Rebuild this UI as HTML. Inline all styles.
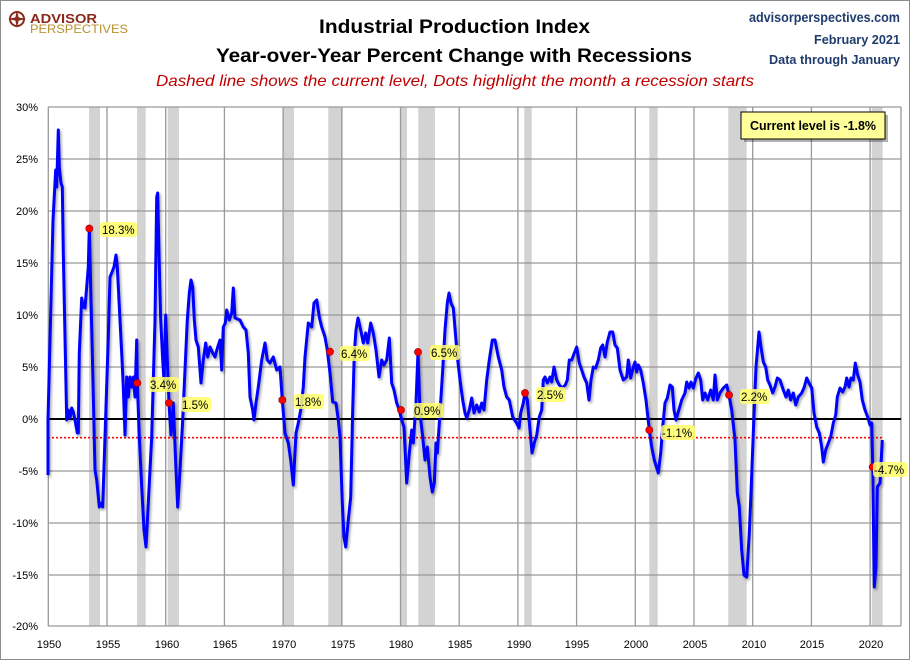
<!DOCTYPE html>
<html><head><meta charset="utf-8"><style>
body{margin:0;background:#fff}
svg{display:block}
text{font-family:"Liberation Sans",sans-serif}
</style></head><body>
<svg width="910" height="660" viewBox="0 0 910 660" xmlns="http://www.w3.org/2000/svg">
<defs>
<filter id="sh" x="-5%" y="-5%" width="110%" height="110%"><feDropShadow dx="1.5" dy="2" stdDeviation="1.2" flood-color="#000" flood-opacity="0.35"/></filter>
</defs>
<rect x="0.5" y="0.5" width="909" height="659" fill="#fff" stroke="#8c8c8c"/>
<circle cx="17" cy="19" r="7" fill="none" stroke="#8b2a1a" stroke-width="2"/>
<path d="M17 10 L19 19 L17 28 L15 19Z M8 19 L17 17 L26 19 L17 21Z" fill="#8b2a1a"/>
<text x="30" y="23" font-size="13" font-weight="bold" fill="#8b2a1a" textLength="67" lengthAdjust="spacingAndGlyphs">ADVISOR</text>
<text x="30" y="33" font-size="12" fill="#b8912f" textLength="98" lengthAdjust="spacingAndGlyphs">PERSPECTIVES</text>
<text x="319" y="33" font-size="19" font-weight="bold" fill="#000" textLength="271" lengthAdjust="spacingAndGlyphs">Industrial Production Index</text>
<text x="216" y="62" font-size="19" font-weight="bold" fill="#000" textLength="476" lengthAdjust="spacingAndGlyphs">Year-over-Year Percent Change with Recessions</text>
<text x="156" y="86" font-size="16" font-style="italic" fill="#c00000" textLength="598" lengthAdjust="spacingAndGlyphs">Dashed line shows the current level, Dots highlight the month a recession starts</text>
<text x="900" y="22" font-size="14" font-weight="bold" fill="#1f3c6e" text-anchor="end" textLength="151" lengthAdjust="spacingAndGlyphs">advisorperspectives.com</text>
<text x="900" y="44" font-size="13" font-weight="bold" fill="#1f3c6e" text-anchor="end" textLength="86" lengthAdjust="spacingAndGlyphs">February 2021</text>
<text x="900" y="64" font-size="13" font-weight="bold" fill="#1f3c6e" text-anchor="end" textLength="131" lengthAdjust="spacingAndGlyphs">Data through January</text>
<g fill="#d3d3d3">
<rect x="89" y="107" width="11" height="519"/>
<rect x="137" y="107" width="8.7" height="519"/>
<rect x="167.7" y="107" width="11.3" height="519"/>
<rect x="283" y="107" width="11" height="519"/>
<rect x="328.3" y="107" width="14.4" height="519"/>
<rect x="400" y="107" width="7" height="519"/>
<rect x="418.3" y="107" width="16.7" height="519"/>
<rect x="524.3" y="107" width="7.4" height="519"/>
<rect x="649.3" y="107" width="8.4" height="519"/>
<rect x="728.3" y="107" width="18.4" height="519"/>
<rect x="871.7" y="107" width="11" height="519"/>
</g>
<g stroke="#999" stroke-width="1.3">
<line x1="48" y1="107" x2="901" y2="107"/><line x1="48" y1="159" x2="901" y2="159"/>
<line x1="48" y1="211" x2="901" y2="211"/><line x1="48" y1="263" x2="901" y2="263"/>
<line x1="48" y1="315" x2="901" y2="315"/><line x1="48" y1="367" x2="901" y2="367"/>
<line x1="48" y1="471" x2="901" y2="471"/><line x1="48" y1="523" x2="901" y2="523"/>
<line x1="48" y1="575" x2="901" y2="575"/><line x1="48" y1="626" x2="901" y2="626"/>
<line x1="48.3" y1="107" x2="48.3" y2="626"/>
<line x1="107" y1="107" x2="107" y2="626"/><line x1="165.7" y1="107" x2="165.7" y2="626"/>
<line x1="224.4" y1="107" x2="224.4" y2="626"/><line x1="283.1" y1="107" x2="283.1" y2="626"/>
<line x1="341.8" y1="107" x2="341.8" y2="626"/><line x1="400.5" y1="107" x2="400.5" y2="626"/>
<line x1="459.2" y1="107" x2="459.2" y2="626"/><line x1="517.9" y1="107" x2="517.9" y2="626"/>
<line x1="576.6" y1="107" x2="576.6" y2="626"/><line x1="635.3" y1="107" x2="635.3" y2="626"/>
<line x1="694" y1="107" x2="694" y2="626"/><line x1="752.7" y1="107" x2="752.7" y2="626"/>
<line x1="811.4" y1="107" x2="811.4" y2="626"/><line x1="870.1" y1="107" x2="870.1" y2="626"/>
<line x1="901" y1="107" x2="901" y2="626"/>
</g>
<line x1="48" y1="419" x2="901" y2="419" stroke="#000" stroke-width="2"/>
<line x1="48" y1="437.7" x2="883" y2="437.7" stroke="#ff0000" stroke-width="1.6" stroke-dasharray="2,2"/>
<g font-size="11" text-anchor="end" fill="#000">
<text x="38" y="111">30%</text><text x="38" y="163">25%</text><text x="38" y="215">20%</text>
<text x="38" y="267">15%</text><text x="38" y="319">10%</text><text x="38" y="371">5%</text>
<text x="38" y="423">0%</text><text x="38" y="475">-5%</text><text x="38" y="527">-10%</text>
<text x="38" y="579">-15%</text><text x="38" y="630">-20%</text>
</g>
<g font-size="11" text-anchor="middle" fill="#000">
<text x="49" y="648">1950</text><text x="108" y="648">1955</text><text x="167" y="648">1960</text>
<text x="225" y="648">1965</text><text x="284" y="648">1970</text><text x="343" y="648">1975</text>
<text x="401" y="648">1980</text><text x="460" y="648">1985</text><text x="519" y="648">1990</text>
<text x="577" y="648">1995</text><text x="636" y="648">2000</text><text x="695" y="648">2005</text>
<text x="754" y="648">2010</text><text x="812" y="648">2015</text><text x="871" y="648">2020</text>
</g>
<polyline filter="url(#sh)" fill="none" stroke="#0000ff" stroke-width="3" stroke-linejoin="round" points="
48,475 48,420 53,220 55.7,170 56.7,187 58.3,130 59.3,167 61,183 62.3,187 63.3,253 66.7,420 68.3,410 70,418 71.7,408 73.3,412 75,420 77.3,433 78.3,433 79.3,353 81.7,298 83.3,307 85,308 86.7,287 88.3,267 89.3,228 90.7,287 92.7,370 95,470 96.7,480 99.3,507 101.7,503 102.7,507 105,437 108.3,337 110,277 111.7,273 114,267 116,255 117.3,267 120,320 121.7,353 123.3,387 125,435 126.7,377 128.3,397 130,377 131.7,387 133.3,377 135,397 136.7,340 137.3,383 139.3,437 141.7,487 144,530 146,547 148.3,503 151.7,437 155,320 156.7,197 157.7,193 159,253 160.7,320 162.7,360 164,380 165.7,315 167.3,360 169,403 171,435 173.3,403 176,470 177.7,507 180,470 182.7,420 185,370 187.3,320 189.3,293 191,280 192.7,287 194.3,320 196,340 198.3,347 201,383 203.3,360 205.7,343 207.7,357 210,347 212.7,353 215,357 217.7,347 220,340 221.7,370 223.3,327 225.3,323 226.7,310 229.3,320 231.7,313 233.3,288 235,318 240,320 243.3,327 246,330 248.3,353 250,397 252.7,410 254,420 256,403 258.3,387 261.7,360 265,343 267.3,360 270,363 273.3,357 276.7,370 280,367 282.3,400 285,433 288.3,443 290.7,460 293.3,485 296,433 298.3,423 300.7,410 303.3,387 305,357 308.3,323 311.7,327 314,303 316.7,300 319.3,317 321.7,327 325,337 327.3,350 330,373 332.7,402 336,403 338.3,420 340,437 342.3,503 344,537 345.7,547 348.3,520 350.7,497 352.7,410 354.3,353 356,330 358,318 360.7,330 363.3,343 365.7,333 367.7,343 370.7,323 373.3,333 376,350 379,377 381.7,360 384,365 386.7,360 389.3,338 391.7,383 394,390 396.7,403 399.3,410 401.7,420 404,427 406.7,483 409.3,453 411.7,430 413.3,443 416,403 418,352 420,413 422.7,437 425,460 427.3,447 430,477 432.3,492 434.3,483 436,443 437.3,453 440,413 442.7,370 445,330 447.3,303 449,293 451,303 453.3,308 455.7,337 457.7,360 460,380 462.7,400 465,413 466.7,418 469.3,410 471.7,398 474,413 476.7,405 479.3,412 481.7,403 484,410 486.7,380 489.3,360 492.3,340 495,340 498.3,357 501.7,370 504,387 506.7,397 509.3,400 512.7,417 516,422 519,428 520.7,413 523.3,403 525,393 527.3,400 530,430 532,453 534.3,443 536.7,435 539.3,417 541.7,410 543.3,380 545,377 547.3,383 550,377 551.7,382 554,367 556.7,380 559.3,385 562.3,388 565.3,385 567.3,380 569.3,360 571.7,360 574.3,353 576.7,347 579.3,363 581.7,370 584,377 586.7,383 589,400 591,380 593.3,367 595.7,368 598.3,360 600.7,348 602.7,345 605,357 607.3,342 610,332 612.7,332 615,345 617.3,348 620,370 623.3,380 626.7,377 628.3,360 630.7,378 633.3,367 635,362 636.7,372 638.3,365 640.7,370 643.3,383 646,400 649.3,430 651.7,447 654.3,460 658.3,473 660.7,453 662.7,427 665,403 667.3,398 670,385 672.3,387 674,410 676,420 678.3,412 681.7,400 685,393 686.7,382 689,388 691,382 693.3,388 696,378 698.3,373 700.7,380 702.7,400 705,393 707.7,400 710.7,390 713.3,400 715,375 717.3,400 720,393 723.3,388 726.7,385 729,395 731.7,410 735,440 737.3,493 739.3,507 741.7,550 744,575 746.7,577 749.3,533 751,493 753.3,433 756,367 759,332 761,347 763.3,362 765.7,367 767.7,380 770,385 772.7,393 775,387 777.3,378 780,380 783.3,390 786,397 788.3,390 790.7,400 793.3,393 795.7,405 798.3,397 801.7,393 804.3,387 806.7,378 809,383 811.7,388 814,413 816.7,427 819.3,433 821.7,447 823.3,462 825.7,450 828.3,443 830.7,437 833.3,423 835.7,415 837.3,397 840,388 842.7,392 845,387 846.7,378 849,387 851,378 853.3,380 855.3,363 857.7,375 860,382 862.3,400 865,410 867.7,417 870,425 871.7,423 872.7,467 874.3,587 876,567 877.3,487 880,483 882.3,440"/>
<g fill="#ff0000" stroke="#800" stroke-width="0.6">
<circle cx="89.3" cy="228.5" r="3.6"/><circle cx="137.3" cy="383" r="3.6"/><circle cx="169" cy="403" r="3.6"/>
<circle cx="282.3" cy="400" r="3.6"/><circle cx="330" cy="351.7" r="3.6"/><circle cx="401" cy="410" r="3.6"/>
<circle cx="418" cy="352" r="3.6"/><circle cx="525" cy="393" r="3.6"/><circle cx="649.3" cy="430" r="3.6"/>
<circle cx="729" cy="395" r="3.6"/><circle cx="872.7" cy="467" r="3.6"/>
</g>
<g font-size="11.5" fill="#000">
<rect x="100" y="222" width="37" height="15" rx="3" fill="#ffff66" opacity="0.85"/><text x="102" y="234">18.3%</text>
<rect x="149" y="377" width="30" height="15" rx="3" fill="#ffff66" opacity="0.85"/><text x="150" y="389">3.4%</text>
<rect x="181" y="397" width="30" height="15" rx="3" fill="#ffff66" opacity="0.85"/><text x="182" y="409">1.5%</text>
<rect x="294" y="394" width="30" height="15" rx="3" fill="#ffff66" opacity="0.85"/><text x="295" y="406">1.8%</text>
<rect x="340" y="346" width="30" height="15" rx="3" fill="#ffff66" opacity="0.85"/><text x="341" y="358">6.4%</text>
<rect x="413" y="403" width="30" height="15" rx="3" fill="#ffff66" opacity="0.85"/><text x="414" y="415">0.9%</text>
<rect x="430" y="345" width="30" height="15" rx="3" fill="#ffff66" opacity="0.85"/><text x="431" y="357">6.5%</text>
<rect x="536" y="387" width="30" height="15" rx="3" fill="#ffff66" opacity="0.85"/><text x="537" y="399">2.5%</text>
<rect x="661" y="425" width="34" height="15" rx="3" fill="#ffff66" opacity="0.85"/><text x="662" y="437">-1.1%</text>
<rect x="740" y="389" width="30" height="15" rx="3" fill="#ffff66" opacity="0.85"/><text x="741" y="401">2.2%</text>
<rect x="873" y="462" width="34" height="15" rx="3" fill="#ffff66" opacity="0.85"/><text x="874" y="474">-4.7%</text>
</g>
<rect x="744" y="115" width="144" height="27" fill="#000" opacity="0.3"/>
<rect x="741" y="112" width="144" height="27" fill="#ffff99" stroke="#000" stroke-width="1"/>
<text x="813" y="130" font-size="12.5" font-weight="bold" text-anchor="middle" textLength="126" lengthAdjust="spacingAndGlyphs">Current level is -1.8%</text>
</svg>
</body></html>
